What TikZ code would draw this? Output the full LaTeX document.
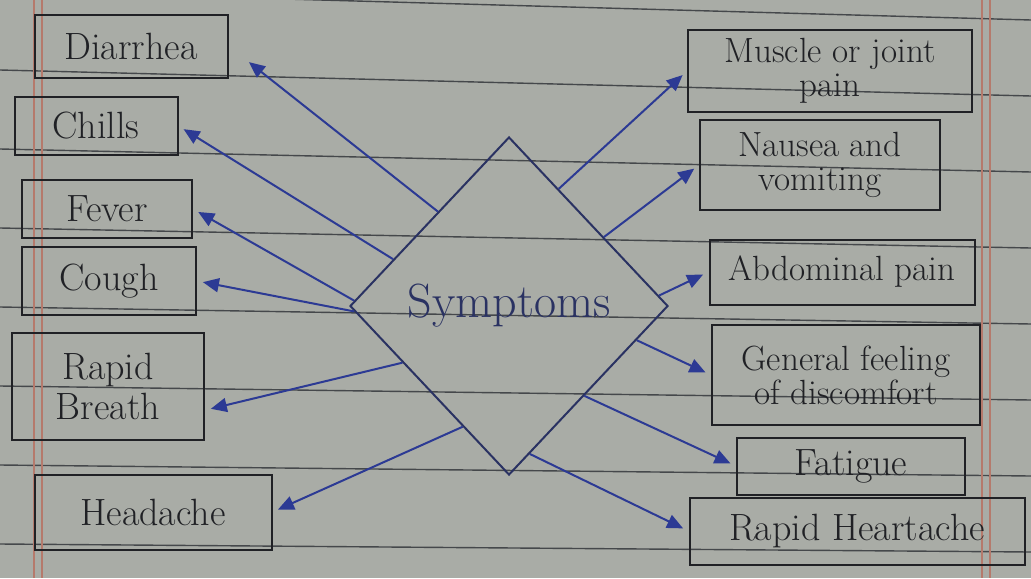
\documentclass[tikz,border=0pt]{standalone}
\usepackage{tikz}
\usetikzlibrary{arrows.meta,positioning,shapes.geometric}
\definecolor{Paper}{HTML}{A9ACA6}
\definecolor{RuleGray}{HTML}{45484B}
\definecolor{MarginRed}{HTML}{B57A6C}
\definecolor{Ink}{HTML}{202125}
\definecolor{PenBlue}{HTML}{2C3A94}
\definecolor{DiamondInk}{HTML}{2A3262}

\begin{document}
\begin{tikzpicture}[x=0.5pt,y=-0.5pt,
    symbox/.style={draw=Ink, line width=1pt, inner sep=0pt, align=center,
      text=Ink, font=\fontsize{19}{20}\selectfont},
    twoline/.style={symbox, font=\fontsize{17.5}{17}\selectfont},
    pointer/.style={draw=PenBlue, line width=1pt,
      -{Triangle[length=8pt,width=7pt]}, shorten >=3pt}]
        \useasboundingbox (0,0) rectangle (1031,578);
        \clip (0,0) rectangle (1031,578);
        % ruled notebook page
        \fill[Paper] (0,0) rectangle (1031,578);
        \foreach \k in {-1,...,6}
          \draw[RuleGray, line width=0.7pt] (0,{70+79*\k}) -- (1031,{96+76*\k});
        \foreach \mx in {34,42,982,990}
          \draw[MarginRed, line width=0.7pt] (\mx,0) -- (\mx,578);

        % centre
        \node[diamond, draw=DiamondInk, line width=1pt, inner sep=0pt,
          minimum width=159pt, minimum height=169pt, text=DiamondInk,
          font=\fontsize{24}{26}\selectfont] (sym) at (509,306) {Symptoms};

        % left column
        \node[symbox, minimum width=96.5pt, minimum height=31.5pt] (diarrhea) at (131,46) {Diarrhea};
        \node[symbox, minimum width=81.5pt, minimum height=29pt] (chills) at (96,126) {Chills};
        \node[symbox, minimum width=85pt, minimum height=29pt] (fever) at (107,209) {Fever};
        \node[symbox, minimum width=87pt, minimum height=34pt] (cough) at (109,281) {Cough};
        \node[symbox, minimum width=96pt, minimum height=53.5pt] (rbreath) at (108,386) {Rapid\\Breath};
        \node[symbox, minimum width=118.5pt, minimum height=37.5pt] (headache) at (153,512) {Headache};

        % right column
        \node[twoline, minimum width=142pt, minimum height=41pt] (muscle) at (830,71) {Muscle or joint\\pain};
        \node[twoline, minimum width=120pt, minimum height=45pt] (nausea) at (820,165) {Nausea and\\vomiting};
        \node[twoline, minimum width=132.5pt, minimum height=32.5pt] (abdomen) at (842,272) {Abdominal pain};
        \node[twoline, minimum width=134pt, minimum height=50pt] (discomfort) at (846,375) {General feeling\\of discomfort};
        \node[symbox, minimum width=114pt, minimum height=28.5pt] (fatigue) at (851,466) {Fatigue};
        \node[symbox, minimum width=167.5pt, minimum height=33.5pt] (rheart) at (857,531) {Rapid Heartache};

        % arrows out of the diamond
        \draw[pointer, shorten >=13pt] (sym.127) -- (diarrhea.east);
        \draw[pointer] (sym.158) -- (chills.east);
        \draw[pointer] (sym.178) -- (fever.east);
        \draw[pointer] (sym.182) -- (cough.east);
        \draw[pointer] (sym.208) -- (rbreath.-14);
        \draw[pointer] (sym.249) -- (headache.east);
        \draw[pointer] (sym.67) -- (muscle.west);
        \draw[pointer] (sym.36) -- (nausea.west);
        \draw[pointer] (sym.4) -- (abdomen.west);
        \draw[pointer] (sym.-15) -- (discomfort.west);
        \draw[pointer] (sym.-50) -- (fatigue.west);
        \draw[pointer] (sym.-82) -- (rheart.west);
      \end{tikzpicture}
\end{document}
